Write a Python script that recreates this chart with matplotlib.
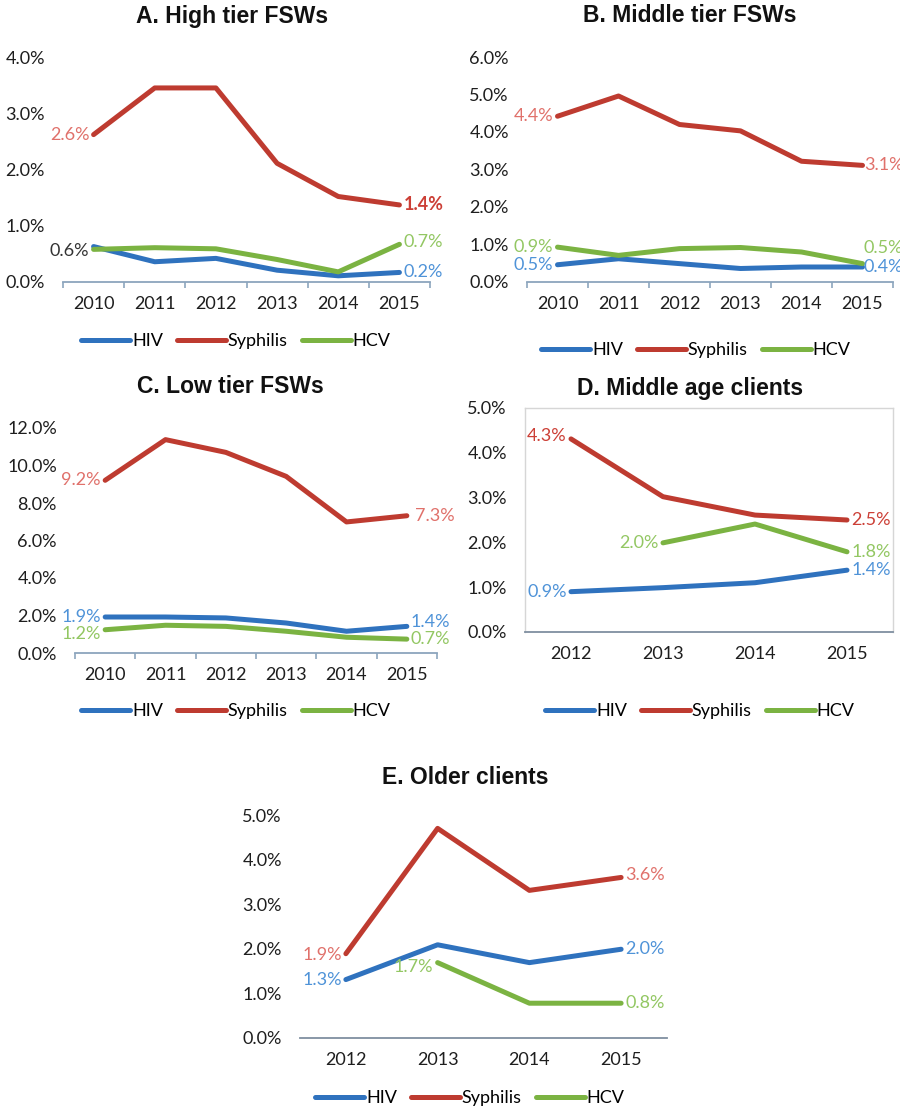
import numpy as np
import matplotlib
matplotlib.use("Agg")
import matplotlib.pyplot as plt
from matplotlib.lines import Line2D

nan = np.nan

# ---------------- data ----------------
years_a = ["2010", "2011", "2012", "2013", "2014", "2015"]
years_d = ["2012", "2013", "2014", "2015"]

a_hiv = [0.63, 0.36, 0.42, 0.21, 0.11, 0.17]
a_syp = [2.62, 3.45, 3.45, 2.11, 1.52, 1.37]
a_hcv = [0.58, 0.61, 0.59, 0.40, 0.18, 0.67]

b_hiv = [0.46, 0.62, 0.49, 0.36, 0.40, 0.40]
b_syp = [4.42, 4.96, 4.20, 4.03, 3.22, 3.11]
b_hcv = [0.93, 0.71, 0.89, 0.92, 0.80, 0.49]

c_hiv = [1.92, 1.92, 1.87, 1.60, 1.16, 1.42]
c_syp = [9.21, 11.38, 10.70, 9.42, 6.99, 7.32]
c_hcv = [1.24, 1.48, 1.42, 1.16, 0.84, 0.74]

d_hiv = [0.90, 0.99, 1.10, 1.38]
d_syp = [4.31, 3.02, 2.61, 2.50]
d_hcv = [nan, 1.99, 2.41, 1.79]

e_hiv = [1.31, 2.09, 1.69, 1.99]
e_syp = [1.89, 4.70, 3.31, 3.60]
e_hcv = [nan, 1.69, 0.78, 0.78]

titles = ["A. High tier FSWs", "B. Middle tier FSWs", "C. Low tier FSWs",
          "D. Middle age clients", "E. Older clients"]
series_names = ["HIV", "Syphilis", "HCV"]

# ---------------- style ----------------
BLUE, RED, GREEN = "#2F72BE", "#BE3B30", "#7BB342"
LBLUE, LRED, LGREEN = "#4F93D8", "#E0716B", "#93C763"
DRED = "#CC3F36"
AXC = "#8CA5BD"
TICKFONT = "Lato"
TITLEFONT = "Liberation Sans"
FS = 13

fig = plt.figure(figsize=(9, 11.09), dpi=100)
W, H = 900, 1109


def add_axes(x0, x1, ytop, ybot):
    return fig.add_axes([x0 / W, 1 - ybot / H, (x1 - x0) / W, (ybot - ytop) / H])


def style(ax, cats, ymax, step, fmt, ticks_out=True, box=False):
    n = len(cats)
    ax.set_xlim(-0.5, n - 0.5)
    ax.set_ylim(0, ymax)
    ax.set_xticks(range(n))
    ax.set_xticklabels(cats, fontsize=FS, fontfamily=TICKFONT, color="#1E1E1E")
    yt = np.arange(0, ymax + 1e-9, step)
    ax.set_yticks(yt)
    ax.set_yticklabels([fmt.format(v) for v in yt], fontsize=FS,
                       fontfamily=TICKFONT, color="#1E1E1E")
    ax.tick_params(axis="y", length=0, pad=13)
    ax.tick_params(axis="x", which="major", length=0, pad=10)
    if ticks_out:
        ax.set_xticks(np.arange(-0.5, n, 1.0), minor=True)
        ax.tick_params(axis="x", which="minor", length=4, width=1.2,
                       color=AXC, direction="out")
    for s in ["left", "right", "top"]:
        if box:
            ax.spines[s].set_color("#D6D6D6")
            ax.spines[s].set_linewidth(1.0)
        else:
            ax.spines[s].set_visible(False)
    ax.spines["bottom"].set_color(AXC if not box else "#7F8FA0")
    ax.spines["bottom"].set_linewidth(1.3)
    ax.patch.set_alpha(0)


def plot_series(ax, hiv, syp, hcv):
    x = np.arange(len(hiv))
    kw = dict(lw=3.6, solid_capstyle="round", solid_joinstyle="round", clip_on=False)
    ax.plot(x, hiv, color=BLUE, zorder=3, **kw)
    ax.plot(x, syp, color=RED, zorder=3, **kw)
    ax.plot(x, hcv, color=GREEN, zorder=4, **kw)


def lab(ax, xi, v, color, side, dy=0, weight="normal", dx=3):
    off = -dx if side == "l" else dx
    ax.annotate(f"{v:.1f}%", xy=(xi, v), xytext=(off, dy), textcoords="offset points",
                ha="right" if side == "l" else "left", va="center",
                color=color, fontsize=FS, fontfamily=TICKFONT, fontweight=weight,
                annotation_clip=False, zorder=5)


def title(text, xc, yc):
    fig.text(xc / W, 1 - yc / H, text, ha="center", va="center",
             fontsize=16.5, fontweight="bold", fontfamily=TITLEFONT, color="#111111")


def legend(xc, yc):
    handles = [Line2D([], [], color=c, lw=3.6, solid_capstyle="round")
               for c in (BLUE, RED, GREEN)]
    fig.legend(handles, series_names, loc="center", bbox_to_anchor=(xc / W, 1 - yc / H),
               ncol=3, frameon=False, handlelength=2.7, handletextpad=0.1,
               columnspacing=0.8, prop={"family": TICKFONT, "size": FS})


# ---- A ----
axA = add_axes(63, 430, 57, 282)
style(axA, years_a, 4.0, 1.0, "{:.1f}%")
plot_series(axA, a_hiv, a_syp, a_hcv)
lab(axA, 0, a_syp[0], LRED, "l")
lab(axA, 5, a_syp[5], DRED, "r", weight="bold")
lab(axA, 0, a_hiv[0], "#333333", "l", dy=-3)
lab(axA, 5, a_hcv[5], LGREEN, "r", dy=2)
lab(axA, 5, a_hiv[5], LBLUE, "r")
title(titles[0], 232, 16)
legend(236, 341)

# ---- B ----
axB = add_axes(527, 893, 57, 282)
style(axB, years_a, 6.0, 1.0, "{:.1f}%")
plot_series(axB, b_hiv, b_syp, b_hcv)
lab(axB, 0, b_syp[0], LRED, "l")
lab(axB, 5, b_syp[5], LRED, "r", dx=1)
lab(axB, 0, b_hcv[0], LGREEN, "l")
lab(axB, 0, b_hiv[0], LBLUE, "l")
lab(axB, 5, b_hcv[5], LGREEN, "r", dy=11, dx=1)
lab(axB, 5, b_hiv[5], LBLUE, "r", dx=1)
title(titles[1], 690, 16)
legend(696, 350)

# ---- C ----
axC = add_axes(75, 437, 428, 653)
style(axC, years_a, 12.0, 2.0, "{:.1f}%")
plot_series(axC, c_hiv, c_syp, c_hcv)
lab(axC, 0, c_syp[0], LRED, "l")
lab(axC, 5, c_syp[5], LRED, "r", dx=6)
lab(axC, 0, c_hiv[0], LBLUE, "l")
lab(axC, 0, c_hcv[0], LGREEN, "l", dy=-3)
lab(axC, 5, c_hiv[5], LBLUE, "r", dy=3)
lab(axC, 5, c_hcv[5], LGREEN, "r", dy=0)
title(titles[2], 230, 387)
legend(236, 711)

# ---- D ----
axD = add_axes(525, 893, 408, 632)
style(axD, years_d, 5.0, 1.0, "{:.1f}%", ticks_out=False, box=True)
plot_series(axD, d_hiv, d_syp, d_hcv)
lab(axD, 0, d_syp[0], DRED, "l", dy=2)
lab(axD, 3, d_syp[3], DRED, "r")
lab(axD, 1, d_hcv[1], LGREEN, "l")
lab(axD, 3, d_hcv[3], LGREEN, "r")
lab(axD, 0, d_hiv[0], LBLUE, "l")
lab(axD, 3, d_hiv[3], LBLUE, "r")
title(titles[3], 690, 388)
legend(700, 711)

# ---- E ----
axE = add_axes(300, 667, 815, 1038)
style(axE, years_d, 5.0, 1.0, "{:.1f}%", ticks_out=False)
axE.spines["bottom"].set_color("#7F8FA0")
plot_series(axE, e_hiv, e_syp, e_hcv)
lab(axE, 0, e_syp[0], LRED, "l", dy=-1)
lab(axE, 3, e_syp[3], LRED, "r", dy=2)
lab(axE, 0, e_hiv[0], LBLUE, "l")
lab(axE, 3, e_hiv[3], LBLUE, "r")
lab(axE, 1, e_hcv[1], LGREEN, "l", dy=-3)
lab(axE, 3, e_hcv[3], LGREEN, "r")
title(titles[4], 465, 777)
legend(470, 1098)

fig.savefig("out.png", dpi=100, facecolor="white")
